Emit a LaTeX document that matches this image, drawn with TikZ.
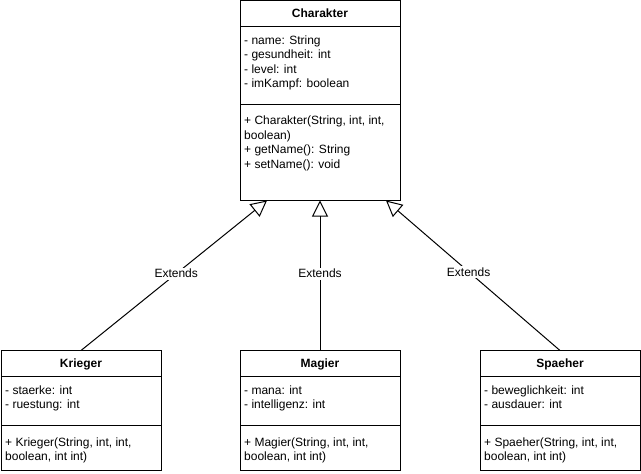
\documentclass[tikz,border=0pt]{standalone}
\usepackage{fontspec}
\setmainfont{Liberation Sans}
\usetikzlibrary{arrows.meta}
\begin{document}
\begin{tikzpicture}[x=1pt,y=-1pt]
\tikzset{
 box/.style={draw, line width=1pt, anchor=north west, minimum width=160pt, inner sep=0pt, outer sep=0pt},
 title/.style={font=\fontsize{12}{14.4}\selectfont\bfseries, anchor=base, inner sep=0pt},
 member/.style={font=\fontsize{12}{14.4}\selectfont, anchor=base west, inner sep=0pt},
 sepline/.style={line width=1pt},
 ext/.style={line width=1pt, -{Triangle[open, length=16pt, width=16pt, line width=1pt]}},
 lbl/.style={fill=white, font=\fontsize{12}{14.4}\selectfont, inner sep=1.5pt}
}
\useasboundingbox (0,0) rectangle (641,474);

% Charakter
\node[box, minimum height=199.5pt] (char) at (240,0.5) {};
\node[title] (charT) at ([yshift=-17.3pt]char.north) {Charakter};
\draw[sepline] ([yshift=-25.5pt]char.north west) -- ([yshift=-25.5pt]char.north east);
\node[member] (cA1) at ([xshift=4pt,yshift=-43.8pt]char.north west) {- name: String};
\node[member] (cA2) at ([xshift=4pt,yshift=-58.2pt]char.north west) {- gesundheit: int};
\node[member] (cA3) at ([xshift=4pt,yshift=-72.6pt]char.north west) {- level: int};
\node[member] (cA4) at ([xshift=4pt,yshift=-87pt]char.north west) {- imKampf: boolean};
\draw[sepline] ([yshift=-103.5pt]char.north west) -- ([yshift=-103.5pt]char.north east);
\node[member] (cM1) at ([xshift=4pt,yshift=-124.3pt]char.north west) {+ Charakter(String, int, int,};
\node[member] (cM2) at ([xshift=4pt,yshift=-138.7pt]char.north west) {boolean)};
\node[member] (cM3) at ([xshift=4pt,yshift=-153.1pt]char.north west) {+ getName(): String};
\node[member] (cM4) at ([xshift=4pt,yshift=-167.5pt]char.north west) {+ setName(): void};

% Krieger
\node[box, minimum height=119.5pt] (krieger) at (1,350.5) {};
\node[title] (kT) at ([yshift=-17.3pt]krieger.north) {Krieger};
\draw[sepline] ([yshift=-25.5pt]krieger.north west) -- ([yshift=-25.5pt]krieger.north east);
\node[member] (kA1) at ([xshift=4pt,yshift=-43.8pt]krieger.north west) {- staerke: int};
\node[member] (kA2) at ([xshift=4pt,yshift=-58.2pt]krieger.north west) {- ruestung: int};
\draw[sepline] ([yshift=-74.5pt]krieger.north west) -- ([yshift=-74.5pt]krieger.north east);
\node[member] (kM1) at ([xshift=4pt,yshift=-95.5pt]krieger.north west) {+ Krieger(String, int, int,};
\node[member] (kM2) at ([xshift=4pt,yshift=-109.9pt]krieger.north west) {boolean, int int)};

% Magier
\node[box, minimum height=119.5pt] (magier) at (240,350.5) {};
\node[title] (mT) at ([yshift=-17.3pt]magier.north) {Magier};
\draw[sepline] ([yshift=-25.5pt]magier.north west) -- ([yshift=-25.5pt]magier.north east);
\node[member] (mA1) at ([xshift=4pt,yshift=-43.8pt]magier.north west) {- mana: int};
\node[member] (mA2) at ([xshift=4pt,yshift=-58.2pt]magier.north west) {- intelligenz: int};
\draw[sepline] ([yshift=-74.5pt]magier.north west) -- ([yshift=-74.5pt]magier.north east);
\node[member] (mM1) at ([xshift=4pt,yshift=-95.5pt]magier.north west) {+ Magier(String, int, int,};
\node[member] (mM2) at ([xshift=4pt,yshift=-109.9pt]magier.north west) {boolean, int int)};

% Spaeher
\node[box, minimum height=119.5pt] (spaeher) at (480,350.5) {};
\node[title] (sT) at ([yshift=-17.3pt]spaeher.north) {Spaeher};
\draw[sepline] ([yshift=-25.5pt]spaeher.north west) -- ([yshift=-25.5pt]spaeher.north east);
\node[member] (sA1) at ([xshift=4pt,yshift=-43.8pt]spaeher.north west) {- beweglichkeit: int};
\node[member] (sA2) at ([xshift=4pt,yshift=-58.2pt]spaeher.north west) {- ausdauer: int};
\draw[sepline] ([yshift=-74.5pt]spaeher.north west) -- ([yshift=-74.5pt]spaeher.north east);
\node[member] (sM1) at ([xshift=4pt,yshift=-95.5pt]spaeher.north west) {+ Spaeher(String, int, int,};
\node[member] (sM2) at ([xshift=4pt,yshift=-109.9pt]spaeher.north west) {boolean, int int)};

% connectors
\coordinate (tL) at (267,200.5);
\coordinate (tM) at (320,200.5);
\coordinate (tR) at (386,200.5);
\draw[ext] (krieger.north) -- node[lbl, pos=0.512] (eL) {Extends} (tL);
\draw[ext] (magier.north) -- node[lbl, pos=0.512] (eM) {Extends} (tM);
\draw[ext] (spaeher.north) -- node[lbl, pos=0.525] (eR) {Extends} (tR);
\end{tikzpicture}
\end{document}
